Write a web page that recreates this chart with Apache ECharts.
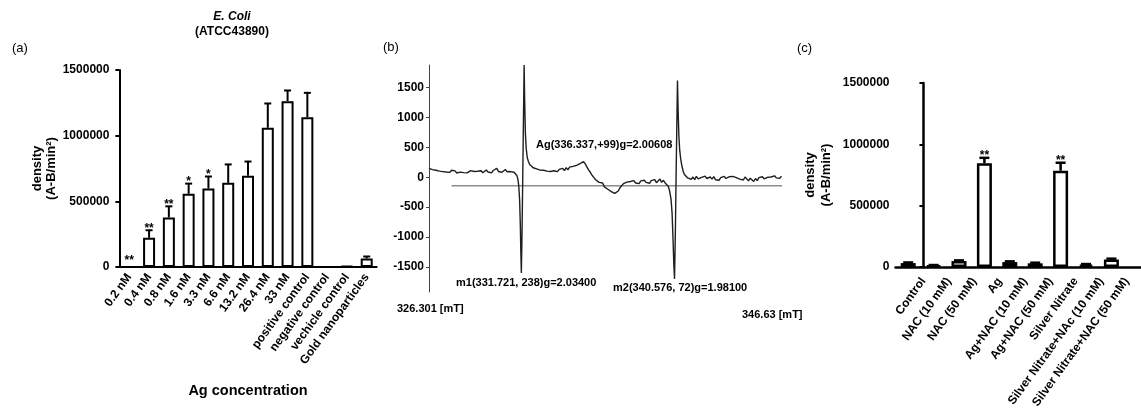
<!DOCTYPE html>
<html><head><meta charset="utf-8">
<script src="https://cdn.jsdelivr.net/npm/echarts@6/dist/echarts.min.js"></script>
<style>html,body{margin:0;padding:0;background:#fff}#c{width:1141px;height:417px}</style>
</head><body><div id="c"></div>
<script>
// ---------- Panel (a) ----------
const catsA = ['0.2 nM','0.4 nM','0.8 nM','1.6 nM','3.3 nM','6.6 nM','13.2 nM','26.4 nM','33 nM','positive control','negative control','vechicle control','Gold nanoparticles'];
const valsA = [0, 222000, 377000, 557000, 597000, 641000, 695000, 1060000, 1262000, 1141000, 0, 6000, 65000];
const errA  = [0, 58000, 85000, 78000, 92000, 140000, 108000, 185000, 82000, 185000, 0, 0, 15000];
const sigA  = ['**','**','**','*','*','','','','','','','',''];
const ticksA = [0, 500000, 1000000, 1500000];

// ---------- Panel (c) ----------
const catsC = ['Control','NAC (10 mM)','NAC (50 mM)','Ag','Ag+NAC (10 mM)','Ag+NAC (50 mM)','Silver Nitrate','Silver Nitrate+NAc (10 mM)','Silver Nitrate+NAC (50 mM)',''];
const valsC = [32000, 12000, 48000, 845000, 40000, 30000, 785000, 20000, 62000, null];
const errC  = [5000, 4000, 6000, 45000, 6000, 5000, 65000, 4000, 6000, 0];
const sigC  = ['','','','**','','','**','','',''];

// ---------- Panel (b) EPR spectrum [field mT, intensity] ----------
const spectrum = [
[326.30,150],[326.40,172],[326.50,128],[326.60,160],[326.70,118],[326.80,146],[326.90,104],[327.00,132],[327.10,96],[327.20,124],
[327.30,88],[327.40,112],[327.50,82],[327.60,118],[327.70,90],[327.80,108],[327.90,72],[328.00,102],[328.10,86],[328.20,116],
[328.30,78],[328.40,100],[328.50,74],[328.60,96],[328.70,112],[328.80,80],[328.90,98],[329.00,70],[329.10,102],[329.20,84],
[329.30,110],[329.40,76],[329.50,96],[329.60,122],[329.70,88],[329.80,106],[329.90,74],[330.00,114],[330.10,86],[330.20,150],
[330.30,98],[330.40,124],[330.50,84],[330.60,108],[330.70,130],[330.80,92],[330.90,112],[331.00,96],[331.10,118],[331.20,84],
[331.30,62],[331.36,30],[331.42,-30],[331.47,-140],[331.52,-380],[331.56,-800],[331.59,-1250],[331.62,-1600],[331.66,-900],
[331.70,0],[331.74,950],[331.78,1880],[331.81,1300],[331.85,750],[331.90,480],[331.96,330],[332.02,270],[332.10,215],[332.20,190],
[332.30,160],[332.40,185],[332.50,140],[332.60,165],[332.70,120],[332.80,150],[332.90,118],[333.00,142],[333.10,104],[333.20,136],
[333.30,98],[333.40,128],[333.50,110],[333.60,140],[333.70,96],[333.80,132],[333.90,108],[334.00,150],[334.10,112],[334.20,162],
[334.30,126],[334.40,170],[334.50,140],[334.60,182],[334.70,160],[334.80,200],[334.90,185],[335.00,230],[335.10,215],[335.20,262],
[335.30,225],[335.40,170],[335.50,120],[335.60,80],[335.70,30],[335.80,-5],[335.90,-40],[336.00,-20],[336.10,-85],[336.20,-110],
[336.30,-95],[336.40,-160],[336.50,-150],[336.60,-200],[336.70,-185],[336.80,-240],[336.90,-215],[337.00,-270],[337.10,-290],[337.20,-230],
[337.30,-175],[337.40,-150],[337.50,-105],[337.60,-125],[337.70,-80],[337.80,-110],[337.90,-70],[338.00,-100],[338.10,-55],[338.20,-95],
[338.30,-65],[338.40,-105],[338.50,-60],[338.60,-90],[338.70,-50],[338.80,-85],[338.90,-60],[339.00,-100],[339.10,-55],[339.20,-80],
[339.30,-40],[339.40,-90],[339.50,-60],[339.60,-30],[339.70,-85],[339.80,-50],[339.90,-95],[340.00,-70],[340.08,-150],[340.16,-230],
[340.24,-370],[340.30,-600],[340.35,-1000],[340.40,-1450],[340.44,-1700],[340.49,-900],[340.53,0],[340.57,800],[340.61,1620],[340.65,1100],
[340.69,700],[340.74,450],[340.80,300],[340.86,200],[340.93,110],[341.00,50],[341.10,20],[341.20,-10],[341.30,10],[341.40,-35],
[341.50,5],[341.60,-40],[341.70,15],[341.80,-25],[341.90,-55],[342.00,0],[342.10,-30],[342.20,20],[342.30,-20],[342.40,-45],
[342.50,5],[342.60,-30],[342.70,10],[342.80,-40],[342.90,-10],[343.00,-50],[343.10,-5],[343.20,-35],[343.30,15],[343.40,-20],
[343.50,-45],[343.60,10],[343.70,40],[343.80,15],[343.90,45],[344.00,-5],[344.10,20],[344.20,-30],[344.30,-10],[344.40,-45],
[344.50,5],[344.60,-25],[344.70,-60],[344.80,-15],[344.90,-40],[345.00,-70],[345.10,-20],[345.20,-55],[345.30,-5],[345.40,-35],
[345.50,10],[345.60,-25],[345.70,-50],[345.80,0],[345.90,-30],[346.00,5],[346.10,-20],[346.20,25],[346.30,-10],[346.40,15],
[346.50,-15],[346.60,20]
];
const refLine = [[327.6,-140],[346.63,-140]];
const ticksB = [-1500,-1000,-500,0,500,1000,1500];
const fieldMin = 326.301, fieldMax = 346.63;

const FONT = 'Liberation Sans, Arial, Helvetica, sans-serif';

function errRender(sigs, capW, lw){
  return function(params, api){
    const i = api.value(0), v = api.value(1), e = api.value(2);
    const p0 = api.coord([i, v]);
    const p1 = api.coord([i, v + e]);
    const children = [];
    if (e > 0) {
      children.push({type:'line', shape:{x1:p0[0],y1:p0[1],x2:p1[0],y2:p1[1]}, style:{stroke:'#000',lineWidth:lw}});
      children.push({type:'line', shape:{x1:p1[0]-capW/2,y1:p1[1],x2:p1[0]+capW/2,y2:p1[1]}, style:{stroke:'#000',lineWidth:lw}});
    }
    const s = sigs[params.dataIndex];
    if (s) children.push({type:'text', style:{text:s, x:p1[0], y:p1[1] - (e > 0 ? 2 : 6), textAlign:'center', textVerticalAlign:'middle', font:'bold 12px '+FONT, fill:'#000'}});
    return {type:'group', children};
  };
}

const plain = v => String(v);
const axisLbl = {color:'#000', fontWeight:'bold', fontSize:12, fontFamily:FONT};
// panel (c) labels sit a little to the right of their ticks (shift in category units)
const labelShiftC = 0.6;
const labelIdxC = catsC.slice(0, 9).map((_, i) => i);

const chart = echarts.init(document.getElementById('c'), null, {renderer:'canvas'});
chart.setOption({
  animation:false,
  backgroundColor:'#fff',
  grid:[
    {left:119.4, top:70, width:257.2, height:197, outerBoundsMode:'none', containLabel:false},
    {left:429, top:65, width:353, height:227, outerBoundsMode:'none', containLabel:false},
    {left:895.5, top:83, width:254, height:184, outerBoundsMode:'none', containLabel:false}
  ],
  xAxis:[
    {type:'category', gridIndex:0, position:'bottom', data:catsA,
     axisLine:{lineStyle:{color:'#000',width:2}},
     axisTick:{alignWithLabel:true, length:5, lineStyle:{color:'#000',width:2}},
     axisLabel:Object.assign({rotate:54, interval:0, margin:8}, axisLbl),
     name:'Ag concentration', nameLocation:'middle', nameGap:116,
     nameTextStyle:{color:'#000', fontWeight:'bold', fontSize:14.5, fontFamily:FONT}},
    {type:'value', gridIndex:1, min:fieldMin, max:fieldMax, show:false},
    {type:'category', gridIndex:2, position:'bottom', data:catsC,
     axisLine:{lineStyle:{color:'#000',width:2.5}},
     axisTick:{alignWithLabel:true, length:5, lineStyle:{color:'#000',width:2}},
     axisLabel:{show:false}},
    {type:'value', gridIndex:2, position:'bottom', min:-0.5 - labelShiftC, max:catsC.length - 0.5 - labelShiftC,
     axisLine:{show:false}, axisTick:{show:false}, splitLine:{show:false},
     axisLabel:Object.assign({rotate:54, margin:12, customValues:labelIdxC, formatter:v => catsC[v]}, axisLbl)}
  ],
  yAxis:[
    {type:'value', gridIndex:0, min:0, max:1500000, interval:500000,
     axisLine:{show:true, lineStyle:{color:'#000',width:2}},
     axisTick:{show:true, length:4, lineStyle:{color:'#000',width:2}},
     splitLine:{show:false},
     axisLabel:Object.assign({margin:10, formatter:plain}, axisLbl),
     name:'density\n(A-B/min²)', nameLocation:'middle', nameGap:58,
     nameTextStyle:{color:'#000', fontWeight:'bold', fontSize:13, lineHeight:14, fontFamily:FONT}},
    {type:'value', gridIndex:1, min:-1920, max:1880,
     axisLine:{show:true, lineStyle:{color:'#444',width:1}},
     axisTick:{show:true, length:3, customValues:ticksB, lineStyle:{color:'#444'}},
     splitLine:{show:false},
     axisLabel:Object.assign({margin:5, customValues:ticksB, formatter:plain}, axisLbl)},
    {type:'value', gridIndex:2, min:0, max:1500000, interval:500000,
     axisLine:{show:true, lineStyle:{color:'#000',width:2.5}},
     axisTick:{show:true, length:4, lineStyle:{color:'#000',width:2}},
     splitLine:{show:false},
     axisLabel:Object.assign({margin:6, formatter:plain}, axisLbl),
     name:'density\n(A-B/min²)', nameLocation:'middle', nameGap:61,
     nameTextStyle:{color:'#000', fontWeight:'bold', fontSize:13, lineHeight:16, fontFamily:FONT}}
  ],
  series:[
    {type:'bar', xAxisIndex:0, yAxisIndex:0, data:valsA, barWidth:12,
     itemStyle:{color:'#fff', borderColor:'#000', borderWidth:2}},
    {type:'custom', xAxisIndex:0, yAxisIndex:0, renderItem:errRender(sigA, 7, 2), z:5,
     data:valsA.map((v,i)=>[i, v, errA[i]])},
    {type:'line', xAxisIndex:1, yAxisIndex:1, data:refLine, showSymbol:false, silent:true,
     lineStyle:{color:'#8c8c8c', width:1.5}},
    {type:'line', xAxisIndex:1, yAxisIndex:1, data:spectrum, showSymbol:false, silent:true,
     lineStyle:{color:'#1e1e1e', width:1.4}},
    {type:'bar', xAxisIndex:2, yAxisIndex:2, data:valsC, barWidth:15,
     itemStyle:{color:'#fff', borderColor:'#000', borderWidth:2.5}},
    {type:'custom', xAxisIndex:2, yAxisIndex:2, renderItem:errRender(sigC, 10, 2.5), z:5,
     data:valsC.map((v,i)=>[i, v == null ? 0 : v, v == null ? 0 : errC[i]])}
  ],
  graphic:[
    {type:'text', x:12, y:48, style:{text:'(a)', font:'13px '+FONT, fill:'#000', textVerticalAlign:'middle'}},
    {type:'text', x:383, y:47, style:{text:'(b)', font:'13px '+FONT, fill:'#000', textVerticalAlign:'middle'}},
    {type:'text', x:797, y:48, style:{text:'(c)', font:'13px '+FONT, fill:'#000', textVerticalAlign:'middle'}},
    {type:'text', x:232, y:17, style:{text:'E. Coli', font:'italic bold 12px '+FONT, fill:'#000', textAlign:'center', textVerticalAlign:'middle'}},
    {type:'text', x:232, y:32, style:{text:'(ATCC43890)', font:'bold 12px '+FONT, fill:'#000', textAlign:'center', textVerticalAlign:'middle'}},
    {type:'text', x:536, y:145, style:{text:'Ag(336.337,+99)g=2.00608', font:'bold 11px '+FONT, fill:'#000', textVerticalAlign:'middle'}},
    {type:'text', x:456, y:283, style:{text:'m1(331.721, 238)g=2.03400', font:'bold 11px '+FONT, fill:'#000', textVerticalAlign:'middle'}},
    {type:'text', x:613, y:288, style:{text:'m2(340.576, 72)g=1.98100', font:'bold 11px '+FONT, fill:'#000', textVerticalAlign:'middle'}},
    {type:'text', x:397, y:309, style:{text:'326.301 [mT]', font:'bold 11px '+FONT, fill:'#000', textVerticalAlign:'middle'}},
    {type:'text', x:742, y:315, style:{text:'346.63 [mT]', font:'bold 11px '+FONT, fill:'#000', textVerticalAlign:'middle'}}
  ]
});
</script>
</body></html>
